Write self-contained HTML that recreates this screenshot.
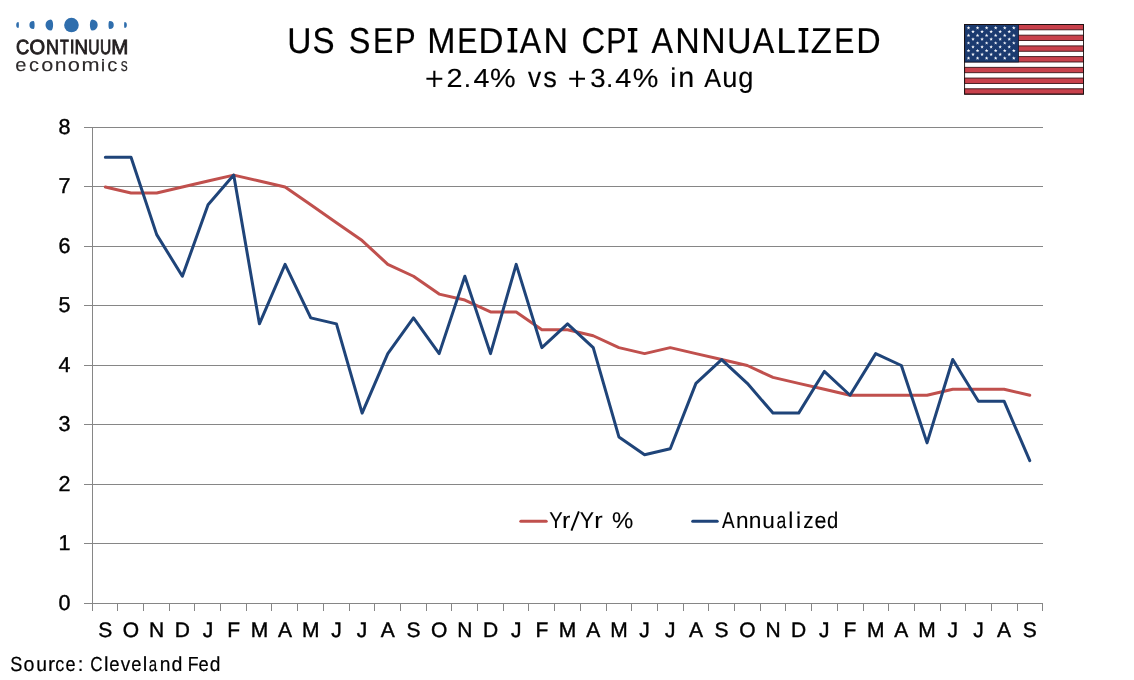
<!DOCTYPE html>
<html><head><meta charset="utf-8"><title>US SEP MEDIAN CPI ANNUALIZED</title>
<style>
html,body{margin:0;padding:0;background:#fff;width:1134px;height:680px;overflow:hidden}
svg{display:block;will-change:transform;text-rendering:geometricPrecision;font-family:"Liberation Sans",sans-serif}
</style></head><body>
<svg width="1134" height="680" viewBox="0 0 1134 680">
<rect width="1134" height="680" fill="#fff"/>
<g id="logo">
<path fill="#2f6ead" d="M18.40,22.00 A2.20,3.00 0 0 0 18.40,28.00 A0.50,3.00 0 0 0 18.40,22.00Z M33.40,21.00 A4.00,4.00 0 0 0 33.40,29.00 A1.20,4.00 0 0 0 33.40,21.00Z M50.90,19.40 A5.40,5.60 0 0 0 50.90,30.60 A2.20,5.60 0 0 0 50.90,19.40Z M92.10,19.40 A2.20,5.60 0 0 0 92.10,30.60 A5.60,5.60 0 0 0 92.10,19.40Z M109.70,21.00 A1.20,4.00 0 0 0 109.70,29.00 A4.05,4.00 0 0 0 109.70,21.00Z M124.60,22.00 A0.50,3.00 0 0 0 124.60,28.00 A2.25,3.00 0 0 0 124.60,22.00Z"/>
<circle cx="71.45" cy="25.05" r="7.3" fill="#2f6ead"/>
</g>
<g id="cont">
<text x="0" y="0" transform="translate(15.88 53.6) scale(0.890 1)" font-size="20.6" fill="#231f20" stroke="#231f20" stroke-width="0.9">C</text>
<text x="0" y="0" transform="translate(29.58 53.6) scale(0.976 1)" font-size="20.6" fill="#231f20" stroke="#231f20" stroke-width="0.9">O</text>
<text x="0" y="0" transform="translate(46.01 53.6) scale(0.872 1)" font-size="20.6" fill="#231f20" stroke="#231f20" stroke-width="0.9">N</text>
<text x="0" y="0" transform="translate(59.99 53.6) scale(0.702 1)" font-size="20.6" fill="#231f20" stroke="#231f20" stroke-width="0.9">T</text>
<rect x="71.05" y="39.44" width="2.3" height="14.16" fill="#231f20"/>
<text x="0" y="0" transform="translate(74.56 53.6) scale(0.912 1)" font-size="20.6" fill="#231f20" stroke="#231f20" stroke-width="0.9">N</text>
<text x="0" y="0" transform="translate(88.33 53.6) scale(0.755 1)" font-size="20.6" fill="#231f20" stroke="#231f20" stroke-width="0.9">U</text>
<text x="0" y="0" transform="translate(99.93 53.6) scale(0.755 1)" font-size="20.6" fill="#231f20" stroke="#231f20" stroke-width="0.9">U</text>
<text x="0" y="0" transform="translate(111.15 53.6) scale(0.997 1)" font-size="20.6" fill="#231f20" stroke="#231f20" stroke-width="0.9">M</text>
</g>
<g id="econ">
<text x="0" y="0" transform="translate(15.31 71.3) scale(1.083 1)" font-size="18.6" fill="#2d2a2b" stroke="#2d2a2b" stroke-width="0.12">e</text>
<text x="0" y="0" transform="translate(29.12 71.3) scale(1.072 1)" font-size="18.6" fill="#2d2a2b" stroke="#2d2a2b" stroke-width="0.12">c</text>
<text x="0" y="0" transform="translate(41.15 71.3) scale(1.167 1)" font-size="18.6" fill="#2d2a2b" stroke="#2d2a2b" stroke-width="0.12">o</text>
<text x="0" y="0" transform="translate(54.75 71.3) scale(1.128 1)" font-size="18.6" fill="#2d2a2b" stroke="#2d2a2b" stroke-width="0.12">n</text>
<text x="0" y="0" transform="translate(67.64 71.3) scale(1.179 1)" font-size="18.6" fill="#2d2a2b" stroke="#2d2a2b" stroke-width="0.12">o</text>
<text x="0" y="0" transform="translate(81.51 71.3) scale(1.164 1)" font-size="18.6" fill="#2d2a2b" stroke="#2d2a2b" stroke-width="0.12">m</text>
<rect x="102.1" y="61.5" width="1.80" height="9.80" fill="#2d2a2b"/><rect x="102.1" y="59" width="1.80" height="1.6" fill="#2d2a2b"/>
<text x="0" y="0" transform="translate(107.21 71.3) scale(1.084 1)" font-size="18.6" fill="#2d2a2b" stroke="#2d2a2b" stroke-width="0.12">c</text>
<text x="0" y="0" transform="translate(120.66 71.3) scale(0.751 1)" font-size="18.6" fill="#2d2a2b" stroke="#2d2a2b" stroke-width="0.12">s</text>
</g>

<g fill="#000">
<g id="title">
<text transform="translate(287.30 52.5) scale(0.931 1)" font-size="36.0" fill="#000" stroke="#000" stroke-width="0.2">U</text>
<text transform="translate(312.50 52.5) scale(0.919 1)" font-size="36.0" fill="#000" stroke="#000" stroke-width="0.2">S</text>
<text transform="translate(348.63 52.5) scale(0.900 1)" font-size="36.0" fill="#000" stroke="#000" stroke-width="0.2">S</text>
<text transform="translate(372.97 52.5) scale(0.846 1)" font-size="36.0" fill="#000" stroke="#000" stroke-width="0.2">E</text>
<text transform="translate(394.70 52.5) scale(0.872 1)" font-size="36.0" fill="#000" stroke="#000" stroke-width="0.2">P</text>
<text transform="translate(427.30 52.5) scale(0.941 1)" font-size="36.0" fill="#000" stroke="#000" stroke-width="0.2">M</text>
<text transform="translate(457.29 52.5) scale(0.841 1)" font-size="36.0" fill="#000" stroke="#000" stroke-width="0.2">E</text>
<text transform="translate(478.44 52.5) scale(0.961 1)" font-size="36.0" fill="#000" stroke="#000" stroke-width="0.2">D</text>
<path d="M507.60 28.00H517.30V30.90H514.10V49.60H517.30V52.50H507.60V49.60H510.80V30.90H507.60Z" fill="#000"/>
<text transform="translate(519.81 52.5) scale(0.894 1)" font-size="36.0" fill="#000" stroke="#000" stroke-width="0.2">A</text>
<text transform="translate(543.40 52.5) scale(0.942 1)" font-size="36.0" fill="#000" stroke="#000" stroke-width="0.2">N</text>
<text transform="translate(581.55 52.5) scale(0.910 1)" font-size="36.0" fill="#000" stroke="#000" stroke-width="0.2">C</text>
<text transform="translate(606.28 52.5) scale(0.842 1)" font-size="36.0" fill="#000" stroke="#000" stroke-width="0.2">P</text>
<path d="M627.90 28.00H637.30V30.90H634.25V49.60H637.30V52.50H627.90V49.60H630.95V30.90H627.90Z" fill="#000"/>
<text transform="translate(651.61 52.5) scale(0.894 1)" font-size="36.0" fill="#000" stroke="#000" stroke-width="0.2">A</text>
<text transform="translate(675.30 52.5) scale(0.942 1)" font-size="36.0" fill="#000" stroke="#000" stroke-width="0.2">N</text>
<text transform="translate(701.31 52.5) scale(0.937 1)" font-size="36.0" fill="#000" stroke="#000" stroke-width="0.2">N</text>
<text transform="translate(727.06 52.5) scale(0.945 1)" font-size="36.0" fill="#000" stroke="#000" stroke-width="0.2">U</text>
<text transform="translate(752.81 52.5) scale(0.894 1)" font-size="36.0" fill="#000" stroke="#000" stroke-width="0.2">A</text>
<text transform="translate(776.27 52.5) scale(0.985 1)" font-size="36.0" fill="#000" stroke="#000" stroke-width="0.2">L</text>
<path d="M798.60 28.00H808.30V30.90H805.10V49.60H808.30V52.50H798.60V49.60H801.80V30.90H798.60Z" fill="#000"/>
<text transform="translate(810.87 52.5) scale(0.964 1)" font-size="36.0" fill="#000" stroke="#000" stroke-width="0.2">Z</text>
<text transform="translate(834.30 52.5) scale(0.836 1)" font-size="36.0" fill="#000" stroke="#000" stroke-width="0.2">E</text>
<text transform="translate(856.21 52.5) scale(0.938 1)" font-size="36.0" fill="#000" stroke="#000" stroke-width="0.2">D</text>
</g>

<g id="subtitle">
<path d="M426.40 78.8H442.30M434.35 70.8V87.1" stroke="#000" stroke-width="2.1" fill="none"/>
<text transform="translate(446.40 87) scale(1.100 1)" font-size="26.2" fill="#000" stroke="#000" stroke-width="0.15">2</text>
<text transform="translate(463.78 87) scale(1.000 1)" font-size="26.2" fill="#000" stroke="#000" stroke-width="0.15">.</text>
<text transform="translate(473.44 87) scale(1.091 1)" font-size="26.2" fill="#000" stroke="#000" stroke-width="0.15">4</text>
<text transform="translate(490.11 87) scale(1.100 1)" font-size="26.2" fill="#000" stroke="#000" stroke-width="0.15">%</text>
<text transform="translate(527.94 87) scale(0.918 1)" font-size="28.6" fill="#000" stroke="#000" stroke-width="0.15">v</text>
<text transform="translate(543.33 87) scale(0.948 1)" font-size="28.6" fill="#000" stroke="#000" stroke-width="0.15">s</text>
<path d="M569.20 78.8H585.00M577.10 70.8V87.1" stroke="#000" stroke-width="2.1" fill="none"/>
<text transform="translate(590.24 87) scale(1.056 1)" font-size="26.2" fill="#000" stroke="#000" stroke-width="0.15">3</text>
<text transform="translate(605.88 87) scale(1.000 1)" font-size="26.2" fill="#000" stroke="#000" stroke-width="0.15">.</text>
<text transform="translate(615.17 87) scale(1.100 1)" font-size="26.2" fill="#000" stroke="#000" stroke-width="0.15">4</text>
<text transform="translate(632.76 87) scale(1.100 1)" font-size="26.2" fill="#000" stroke="#000" stroke-width="0.15">%</text>
<text transform="translate(670.35 87) scale(1.000 1)" font-size="27" fill="#000" stroke="#000" stroke-width="0.15">i</text>
<text transform="translate(678.13 87) scale(1.005 1)" font-size="28.6" fill="#000" stroke="#000" stroke-width="0.15">n</text>
<text transform="translate(704.31 87) scale(0.965 1)" font-size="26.2" fill="#000" stroke="#000" stroke-width="0.15">A</text>
<text transform="translate(722.30 87) scale(0.951 1)" font-size="28.6" fill="#000" stroke="#000" stroke-width="0.15">u</text>
<text transform="translate(738.31 87) scale(0.952 1)" font-size="28.6" fill="#000" stroke="#000" stroke-width="0.15">g</text>
</g>

</g>
<g id="flag">
<rect x="964.6" y="24.45" width="118.9" height="69.7" fill="#fff"/>
<rect x="964.6" y="24.45" width="118.9" height="5.36" fill="#c8414c" stroke="#3b1418" stroke-width="0.9"/>
<rect x="964.6" y="35.17" width="118.9" height="5.36" fill="#c8414c" stroke="#3b1418" stroke-width="0.9"/>
<rect x="964.6" y="45.90" width="118.9" height="5.36" fill="#c8414c" stroke="#3b1418" stroke-width="0.9"/>
<rect x="964.6" y="56.62" width="118.9" height="5.36" fill="#c8414c" stroke="#3b1418" stroke-width="0.9"/>
<rect x="964.6" y="67.34" width="118.9" height="5.36" fill="#c8414c" stroke="#3b1418" stroke-width="0.9"/>
<rect x="964.6" y="78.07" width="118.9" height="5.36" fill="#c8414c" stroke="#3b1418" stroke-width="0.9"/>
<rect x="964.6" y="88.79" width="118.9" height="5.36" fill="#c8414c" stroke="#3b1418" stroke-width="0.9"/>
<rect x="964.6" y="24.45" width="53.9" height="37.53" fill="#1b3a6f" stroke="#101a30" stroke-width="0.8"/>
<rect x="964.6" y="24.45" width="118.9" height="69.7" fill="none" stroke="#1a1010" stroke-width="0.9"/>
<path fill="#f4f6fb" d="M968.50,26.00 L968.97,27.25 L970.31,27.31 L969.26,28.15 L969.62,29.44 L968.50,28.70 L967.38,29.44 L967.74,28.15 L966.69,27.31 L968.03,27.25Z M977.56,26.00 L978.03,27.25 L979.37,27.31 L978.32,28.15 L978.68,29.44 L977.56,28.70 L976.44,29.44 L976.80,28.15 L975.75,27.31 L977.09,27.25Z M986.62,26.00 L987.09,27.25 L988.43,27.31 L987.38,28.15 L987.74,29.44 L986.62,28.70 L985.50,29.44 L985.86,28.15 L984.81,27.31 L986.15,27.25Z M995.68,26.00 L996.15,27.25 L997.49,27.31 L996.44,28.15 L996.80,29.44 L995.68,28.70 L994.56,29.44 L994.92,28.15 L993.87,27.31 L995.21,27.25Z M1004.74,26.00 L1005.21,27.25 L1006.55,27.31 L1005.50,28.15 L1005.86,29.44 L1004.74,28.70 L1003.62,29.44 L1003.98,28.15 L1002.93,27.31 L1004.27,27.25Z M1013.80,26.00 L1014.27,27.25 L1015.61,27.31 L1014.56,28.15 L1014.92,29.44 L1013.80,28.70 L1012.68,29.44 L1013.04,28.15 L1011.99,27.31 L1013.33,27.25Z M973.00,29.79 L973.47,31.04 L974.81,31.10 L973.76,31.94 L974.12,33.23 L973.00,32.49 L971.88,33.23 L972.24,31.94 L971.19,31.10 L972.53,31.04Z M982.06,29.79 L982.53,31.04 L983.87,31.10 L982.82,31.94 L983.18,33.23 L982.06,32.49 L980.94,33.23 L981.30,31.94 L980.25,31.10 L981.59,31.04Z M991.12,29.79 L991.59,31.04 L992.93,31.10 L991.88,31.94 L992.24,33.23 L991.12,32.49 L990.00,33.23 L990.36,31.94 L989.31,31.10 L990.65,31.04Z M1000.18,29.79 L1000.65,31.04 L1001.99,31.10 L1000.94,31.94 L1001.30,33.23 L1000.18,32.49 L999.06,33.23 L999.42,31.94 L998.37,31.10 L999.71,31.04Z M1009.24,29.79 L1009.71,31.04 L1011.05,31.10 L1010.00,31.94 L1010.36,33.23 L1009.24,32.49 L1008.12,33.23 L1008.48,31.94 L1007.43,31.10 L1008.77,31.04Z M968.50,33.58 L968.97,34.83 L970.31,34.89 L969.26,35.73 L969.62,37.02 L968.50,36.28 L967.38,37.02 L967.74,35.73 L966.69,34.89 L968.03,34.83Z M977.56,33.58 L978.03,34.83 L979.37,34.89 L978.32,35.73 L978.68,37.02 L977.56,36.28 L976.44,37.02 L976.80,35.73 L975.75,34.89 L977.09,34.83Z M986.62,33.58 L987.09,34.83 L988.43,34.89 L987.38,35.73 L987.74,37.02 L986.62,36.28 L985.50,37.02 L985.86,35.73 L984.81,34.89 L986.15,34.83Z M995.68,33.58 L996.15,34.83 L997.49,34.89 L996.44,35.73 L996.80,37.02 L995.68,36.28 L994.56,37.02 L994.92,35.73 L993.87,34.89 L995.21,34.83Z M1004.74,33.58 L1005.21,34.83 L1006.55,34.89 L1005.50,35.73 L1005.86,37.02 L1004.74,36.28 L1003.62,37.02 L1003.98,35.73 L1002.93,34.89 L1004.27,34.83Z M1013.80,33.58 L1014.27,34.83 L1015.61,34.89 L1014.56,35.73 L1014.92,37.02 L1013.80,36.28 L1012.68,37.02 L1013.04,35.73 L1011.99,34.89 L1013.33,34.83Z M973.00,37.37 L973.47,38.62 L974.81,38.68 L973.76,39.52 L974.12,40.81 L973.00,40.07 L971.88,40.81 L972.24,39.52 L971.19,38.68 L972.53,38.62Z M982.06,37.37 L982.53,38.62 L983.87,38.68 L982.82,39.52 L983.18,40.81 L982.06,40.07 L980.94,40.81 L981.30,39.52 L980.25,38.68 L981.59,38.62Z M991.12,37.37 L991.59,38.62 L992.93,38.68 L991.88,39.52 L992.24,40.81 L991.12,40.07 L990.00,40.81 L990.36,39.52 L989.31,38.68 L990.65,38.62Z M1000.18,37.37 L1000.65,38.62 L1001.99,38.68 L1000.94,39.52 L1001.30,40.81 L1000.18,40.07 L999.06,40.81 L999.42,39.52 L998.37,38.68 L999.71,38.62Z M1009.24,37.37 L1009.71,38.62 L1011.05,38.68 L1010.00,39.52 L1010.36,40.81 L1009.24,40.07 L1008.12,40.81 L1008.48,39.52 L1007.43,38.68 L1008.77,38.62Z M968.50,41.16 L968.97,42.41 L970.31,42.47 L969.26,43.31 L969.62,44.60 L968.50,43.86 L967.38,44.60 L967.74,43.31 L966.69,42.47 L968.03,42.41Z M977.56,41.16 L978.03,42.41 L979.37,42.47 L978.32,43.31 L978.68,44.60 L977.56,43.86 L976.44,44.60 L976.80,43.31 L975.75,42.47 L977.09,42.41Z M986.62,41.16 L987.09,42.41 L988.43,42.47 L987.38,43.31 L987.74,44.60 L986.62,43.86 L985.50,44.60 L985.86,43.31 L984.81,42.47 L986.15,42.41Z M995.68,41.16 L996.15,42.41 L997.49,42.47 L996.44,43.31 L996.80,44.60 L995.68,43.86 L994.56,44.60 L994.92,43.31 L993.87,42.47 L995.21,42.41Z M1004.74,41.16 L1005.21,42.41 L1006.55,42.47 L1005.50,43.31 L1005.86,44.60 L1004.74,43.86 L1003.62,44.60 L1003.98,43.31 L1002.93,42.47 L1004.27,42.41Z M1013.80,41.16 L1014.27,42.41 L1015.61,42.47 L1014.56,43.31 L1014.92,44.60 L1013.80,43.86 L1012.68,44.60 L1013.04,43.31 L1011.99,42.47 L1013.33,42.41Z M973.00,44.95 L973.47,46.20 L974.81,46.26 L973.76,47.10 L974.12,48.39 L973.00,47.65 L971.88,48.39 L972.24,47.10 L971.19,46.26 L972.53,46.20Z M982.06,44.95 L982.53,46.20 L983.87,46.26 L982.82,47.10 L983.18,48.39 L982.06,47.65 L980.94,48.39 L981.30,47.10 L980.25,46.26 L981.59,46.20Z M991.12,44.95 L991.59,46.20 L992.93,46.26 L991.88,47.10 L992.24,48.39 L991.12,47.65 L990.00,48.39 L990.36,47.10 L989.31,46.26 L990.65,46.20Z M1000.18,44.95 L1000.65,46.20 L1001.99,46.26 L1000.94,47.10 L1001.30,48.39 L1000.18,47.65 L999.06,48.39 L999.42,47.10 L998.37,46.26 L999.71,46.20Z M1009.24,44.95 L1009.71,46.20 L1011.05,46.26 L1010.00,47.10 L1010.36,48.39 L1009.24,47.65 L1008.12,48.39 L1008.48,47.10 L1007.43,46.26 L1008.77,46.20Z M968.50,48.74 L968.97,49.99 L970.31,50.05 L969.26,50.89 L969.62,52.18 L968.50,51.44 L967.38,52.18 L967.74,50.89 L966.69,50.05 L968.03,49.99Z M977.56,48.74 L978.03,49.99 L979.37,50.05 L978.32,50.89 L978.68,52.18 L977.56,51.44 L976.44,52.18 L976.80,50.89 L975.75,50.05 L977.09,49.99Z M986.62,48.74 L987.09,49.99 L988.43,50.05 L987.38,50.89 L987.74,52.18 L986.62,51.44 L985.50,52.18 L985.86,50.89 L984.81,50.05 L986.15,49.99Z M995.68,48.74 L996.15,49.99 L997.49,50.05 L996.44,50.89 L996.80,52.18 L995.68,51.44 L994.56,52.18 L994.92,50.89 L993.87,50.05 L995.21,49.99Z M1004.74,48.74 L1005.21,49.99 L1006.55,50.05 L1005.50,50.89 L1005.86,52.18 L1004.74,51.44 L1003.62,52.18 L1003.98,50.89 L1002.93,50.05 L1004.27,49.99Z M1013.80,48.74 L1014.27,49.99 L1015.61,50.05 L1014.56,50.89 L1014.92,52.18 L1013.80,51.44 L1012.68,52.18 L1013.04,50.89 L1011.99,50.05 L1013.33,49.99Z M973.00,52.53 L973.47,53.78 L974.81,53.84 L973.76,54.68 L974.12,55.97 L973.00,55.23 L971.88,55.97 L972.24,54.68 L971.19,53.84 L972.53,53.78Z M982.06,52.53 L982.53,53.78 L983.87,53.84 L982.82,54.68 L983.18,55.97 L982.06,55.23 L980.94,55.97 L981.30,54.68 L980.25,53.84 L981.59,53.78Z M991.12,52.53 L991.59,53.78 L992.93,53.84 L991.88,54.68 L992.24,55.97 L991.12,55.23 L990.00,55.97 L990.36,54.68 L989.31,53.84 L990.65,53.78Z M1000.18,52.53 L1000.65,53.78 L1001.99,53.84 L1000.94,54.68 L1001.30,55.97 L1000.18,55.23 L999.06,55.97 L999.42,54.68 L998.37,53.84 L999.71,53.78Z M1009.24,52.53 L1009.71,53.78 L1011.05,53.84 L1010.00,54.68 L1010.36,55.97 L1009.24,55.23 L1008.12,55.97 L1008.48,54.68 L1007.43,53.84 L1008.77,53.78Z M968.50,56.32 L968.97,57.57 L970.31,57.63 L969.26,58.47 L969.62,59.76 L968.50,59.02 L967.38,59.76 L967.74,58.47 L966.69,57.63 L968.03,57.57Z M977.56,56.32 L978.03,57.57 L979.37,57.63 L978.32,58.47 L978.68,59.76 L977.56,59.02 L976.44,59.76 L976.80,58.47 L975.75,57.63 L977.09,57.57Z M986.62,56.32 L987.09,57.57 L988.43,57.63 L987.38,58.47 L987.74,59.76 L986.62,59.02 L985.50,59.76 L985.86,58.47 L984.81,57.63 L986.15,57.57Z M995.68,56.32 L996.15,57.57 L997.49,57.63 L996.44,58.47 L996.80,59.76 L995.68,59.02 L994.56,59.76 L994.92,58.47 L993.87,57.63 L995.21,57.57Z M1004.74,56.32 L1005.21,57.57 L1006.55,57.63 L1005.50,58.47 L1005.86,59.76 L1004.74,59.02 L1003.62,59.76 L1003.98,58.47 L1002.93,57.63 L1004.27,57.57Z M1013.80,56.32 L1014.27,57.57 L1015.61,57.63 L1014.56,58.47 L1014.92,59.76 L1013.80,59.02 L1012.68,59.76 L1013.04,58.47 L1011.99,57.63 L1013.33,57.57Z"/>

</g>
<path d="M84 127.5H1043M84 186.5H1043M84 246.5H1043M84 305.5H1043M84 365.5H1043M84 424.5H1043M84 484.5H1043M84 543.5H1043" stroke="#868686" stroke-width="1" fill="none"/>
<path d="M84 603.5H1043M92.5 127V611M117.5 603V611M143.5 603V611M169.5 603V611M194.5 603V611M220.5 603V611M246.5 603V611M271.5 603V611M297.5 603V611M323.5 603V611M349.5 603V611M374.5 603V611M400.5 603V611M426.5 603V611M451.5 603V611M477.5 603V611M503.5 603V611M528.5 603V611M554.5 603V611M580.5 603V611M606.5 603V611M631.5 603V611M657.5 603V611M683.5 603V611M708.5 603V611M734.5 603V611M760.5 603V611M785.5 603V611M811.5 603V611M837.5 603V611M863.5 603V611M888.5 603V611M914.5 603V611M940.5 603V611M965.5 603V611M991.5 603V611M1017.5 603V611M1042.5 603V611" stroke="#868686" stroke-width="1" fill="none"/>
<g font-size="21.5" fill="#000" text-anchor="end" stroke="#000" stroke-width="0.4">
<text x="70.5" y="610.0">0</text>
<text x="70.5" y="550.0">1</text>
<text x="70.5" y="491.0">2</text>
<text x="70.5" y="431.0">3</text>
<text x="70.5" y="372.0">4</text>
<text x="70.5" y="312.0">5</text>
<text x="70.5" y="253.0">6</text>
<text x="70.5" y="193.0">7</text>
<text x="70.5" y="134.0">8</text>
</g>
<polyline fill="none" stroke="#c0504d" stroke-width="3" stroke-linejoin="round" stroke-linecap="round" points="105.34,187.00 131.02,192.95 156.70,192.95 182.37,187.00 208.05,181.05 233.73,175.10 259.41,181.05 285.09,187.00 310.77,204.85 336.44,222.70 362.12,240.55 387.80,264.35 413.48,276.25 439.16,294.10 464.84,300.05 490.51,311.95 516.19,311.95 541.87,329.80 567.55,329.80 593.23,335.75 618.91,347.65 644.59,353.60 670.26,347.65 695.94,353.60 721.62,359.55 747.30,365.50 772.98,377.40 798.66,383.35 824.33,389.30 850.01,395.25 875.69,395.25 901.37,395.25 927.05,395.25 952.73,389.30 978.40,389.30 1004.08,389.30 1029.76,395.25"/>
<polyline fill="none" stroke="#1f4479" stroke-width="3" stroke-linejoin="round" stroke-linecap="round" points="105.34,157.25 131.02,157.25 156.70,234.60 182.37,276.25 208.05,204.85 233.73,175.10 259.41,323.85 285.09,264.35 310.77,317.90 336.44,323.85 362.12,413.10 387.80,353.60 413.48,317.90 439.16,353.60 464.84,276.25 490.51,353.60 516.19,264.35 541.87,347.65 567.55,323.85 593.23,347.65 618.91,436.90 644.59,454.75 670.26,448.80 695.94,383.35 721.62,359.55 747.30,383.35 772.98,413.10 798.66,413.10 824.33,371.45 850.01,395.25 875.69,353.60 901.37,365.50 927.05,442.85 952.73,359.55 978.40,401.20 1004.08,401.20 1029.76,460.70"/>
<path d="M520.8 521.2H546.2" stroke="#c0504d" stroke-width="3" stroke-linecap="round"/>
<path d="M692.7 521.2H717.2" stroke="#1f4479" stroke-width="3" stroke-linecap="round"/>
<g id="legend">
<text transform="translate(549.19 528) scale(0.882 1)" font-size="22.8" fill="#000" stroke="#000" stroke-width="0.1">Y</text>
<text transform="translate(561.92 528) scale(1.100 1)" font-size="22.8" fill="#000" stroke="#000" stroke-width="0.1">r</text>
<path d="M571.40 530.60L578.90 511.40" stroke="#000" stroke-width="1.9" fill="none"/>
<text transform="translate(579.77 528) scale(0.938 1)" font-size="22.8" fill="#000" stroke="#000" stroke-width="0.1">Y</text>
<text transform="translate(594.22 528) scale(1.100 1)" font-size="22.8" fill="#000" stroke="#000" stroke-width="0.1">r</text>
<text transform="translate(612.01 528) scale(1.051 1)" font-size="22.8" fill="#000" stroke="#000" stroke-width="0.1">%</text>
<text transform="translate(722.09 528) scale(0.829 1)" font-size="22.8" fill="#000" stroke="#000" stroke-width="0.1">A</text>
<text transform="translate(735.93 528) scale(0.986 1)" font-size="22.8" fill="#000" stroke="#000" stroke-width="0.1">n</text>
<text transform="translate(748.82 528) scale(0.997 1)" font-size="22.8" fill="#000" stroke="#000" stroke-width="0.1">n</text>
<text transform="translate(762.28 528) scale(0.991 1)" font-size="22.8" fill="#000" stroke="#000" stroke-width="0.1">u</text>
<text transform="translate(776.49 528) scale(0.772 1)" font-size="22.8" fill="#000" stroke="#000" stroke-width="0.1">a</text>
<text transform="translate(788.31 528) scale(1.000 1)" font-size="22.8" fill="#000" stroke="#000" stroke-width="0.1">l</text>
<text transform="translate(795.91 528) scale(1.000 1)" font-size="22.8" fill="#000" stroke="#000" stroke-width="0.1">i</text>
<text transform="translate(803.32 528) scale(0.910 1)" font-size="22.8" fill="#000" stroke="#000" stroke-width="0.1">z</text>
<text transform="translate(814.53 528) scale(0.943 1)" font-size="22.8" fill="#000" stroke="#000" stroke-width="0.1">e</text>
<text transform="translate(826.88 528) scale(0.888 1)" font-size="22.8" fill="#000" stroke="#000" stroke-width="0.1">d</text>
</g>

<g font-size="21" fill="#000" text-anchor="middle" stroke="#000" stroke-width="0.4">
<text x="105.34" y="637">S</text>
<text x="131.02" y="637">O</text>
<text x="156.70" y="637">N</text>
<text x="182.37" y="637">D</text>
<text x="208.05" y="637">J</text>
<text x="233.73" y="637">F</text>
<text x="259.41" y="637">M</text>
<text x="285.09" y="637">A</text>
<text x="310.77" y="637">M</text>
<text x="336.44" y="637">J</text>
<text x="362.12" y="637">J</text>
<text x="387.80" y="637">A</text>
<text x="413.48" y="637">S</text>
<text x="439.16" y="637">O</text>
<text x="464.84" y="637">N</text>
<text x="490.51" y="637">D</text>
<text x="516.19" y="637">J</text>
<text x="541.87" y="637">F</text>
<text x="567.55" y="637">M</text>
<text x="593.23" y="637">A</text>
<text x="618.91" y="637">M</text>
<text x="644.59" y="637">J</text>
<text x="670.26" y="637">J</text>
<text x="695.94" y="637">A</text>
<text x="721.62" y="637">S</text>
<text x="747.30" y="637">O</text>
<text x="772.98" y="637">N</text>
<text x="798.66" y="637">D</text>
<text x="824.33" y="637">J</text>
<text x="850.01" y="637">F</text>
<text x="875.69" y="637">M</text>
<text x="901.37" y="637">A</text>
<text x="927.05" y="637">M</text>
<text x="952.73" y="637">J</text>
<text x="978.40" y="637">J</text>
<text x="1004.08" y="637">A</text>
<text x="1029.76" y="637">S</text>
</g>
<g id="source">
<text transform="translate(10.17 671) scale(0.893 1)" font-size="20.3" fill="#000" stroke="#000" stroke-width="0.2">S</text>
<text transform="translate(23.56 671) scale(0.970 1)" font-size="20.3" fill="#000" stroke="#000" stroke-width="0.2">o</text>
<text transform="translate(36.14 671) scale(0.952 1)" font-size="20.3" fill="#000" stroke="#000" stroke-width="0.2">u</text>
<text transform="translate(47.98 671) scale(1.043 1)" font-size="20.3" fill="#000" stroke="#000" stroke-width="0.2">r</text>
<text transform="translate(55.33 671) scale(0.885 1)" font-size="20.3" fill="#000" stroke="#000" stroke-width="0.2">c</text>
<text transform="translate(65.62 671) scale(0.893 1)" font-size="20.3" fill="#000" stroke="#000" stroke-width="0.2">e</text>
<text transform="translate(77.76 671) scale(1.000 1)" font-size="20.3" fill="#000" stroke="#000" stroke-width="0.2">:</text>
<text transform="translate(90.33 671) scale(0.844 1)" font-size="20.3" fill="#000" stroke="#000" stroke-width="0.2">C</text>
<text transform="translate(103.89 671) scale(1.000 1)" font-size="20.3" fill="#000" stroke="#000" stroke-width="0.2">l</text>
<text transform="translate(109.30 671) scale(0.914 1)" font-size="20.3" fill="#000" stroke="#000" stroke-width="0.2">e</text>
<text transform="translate(120.80 671) scale(0.936 1)" font-size="20.3" fill="#000" stroke="#000" stroke-width="0.2">v</text>
<text transform="translate(131.31 671) scale(0.903 1)" font-size="20.3" fill="#000" stroke="#000" stroke-width="0.2">e</text>
<text transform="translate(142.84 671) scale(1.000 1)" font-size="20.3" fill="#000" stroke="#000" stroke-width="0.2">l</text>
<text transform="translate(148.83 671) scale(0.745 1)" font-size="20.3" fill="#000" stroke="#000" stroke-width="0.2">a</text>
<text transform="translate(159.70 671) scale(0.946 1)" font-size="20.3" fill="#000" stroke="#000" stroke-width="0.2">n</text>
<text transform="translate(171.56 671) scale(0.964 1)" font-size="20.3" fill="#000" stroke="#000" stroke-width="0.2">d</text>
<text transform="translate(187.63 671) scale(0.872 1)" font-size="20.3" fill="#000" stroke="#000" stroke-width="0.2">F</text>
<text transform="translate(198.41 671) scale(0.903 1)" font-size="20.3" fill="#000" stroke="#000" stroke-width="0.2">e</text>
<text transform="translate(209.68 671) scale(0.943 1)" font-size="20.3" fill="#000" stroke="#000" stroke-width="0.2">d</text>
</g>

</svg>
</body></html>
